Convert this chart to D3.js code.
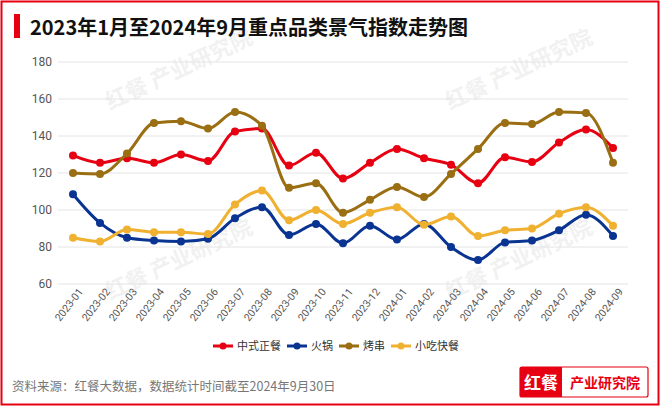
<html>
<head>
<meta charset="utf-8">
<script src="https://d3js.org/d3.v7.min.js"></script>
<style>body{margin:0;background:#fff;font-family:"Noto Sans CJK SC","Noto Sans",sans-serif}</style>
</head>
<body>
<div id="chart"></div>
<script>
var months = ["2023-01","2023-02","2023-03","2023-04","2023-05","2023-06","2023-07","2023-08","2023-09","2023-10","2023-11","2023-12","2024-01","2024-02","2024-03","2024-04","2024-05","2024-06","2024-07","2024-08","2024-09"];
var zhongshi = [129.5,125.5,128,125.5,130,126.5,142.5,144,124,131,117,125.5,133,128,124.5,114.5,128.5,126,136.5,143.5,133.5];
var huoguo = [108.5,93,85,83.5,83,84.5,95.5,101.5,86.5,92.5,82,91.5,84,92.5,80,73,82.5,83.5,89,97.5,86];
var kaochuan = [120,119.5,130.5,147,148,144,153,145.5,112,114.5,98.5,105.5,112.5,107,119.5,133,147,146.5,153,152.5,125.5];
var xiaochi = [85,83,89.5,88,88,87,103,110.5,94.5,100,92.5,98.5,101.5,92,96.5,86,89,90,98,101.5,91.5];
var yTicks = [60,80,100,120,140,160,180];

var series = [
  {name:"中式正餐", values:zhongshi, color:"#e60012"},
  {name:"火锅", values:huoguo, color:"#0a3491"},
  {name:"烤串", values:kaochuan, color:"#9a6e12"},
  {name:"小吃快餐", values:xiaochi, color:"#f0b030"}
];

var W = 660, H = 406;
var svg = d3.select("#chart").append("svg").attr("width", W).attr("height", H);

// frame + title
svg.append("rect").attr("x",1.5).attr("y",1.5).attr("width",W-3).attr("height",H-3)
  .attr("fill","none").attr("stroke","#e60012").attr("stroke-width",2);
svg.append("rect").attr("x",14).attr("y",14).attr("width",6).attr("height",24).attr("fill","#e60012");
svg.append("text").attr("x",30).attr("y",35).attr("font-size",20).attr("font-weight","bold")
  .attr("fill","#111").text("2023年1月至2024年9月重点品类景气指数走势图");

// watermarks
[[110,110],[450,110],[110,300],[450,300]].forEach(function(p){
  svg.append("text").attr("transform","translate("+p[0]+","+p[1]+") rotate(-25)")
    .attr("font-size",22).attr("font-weight","bold").attr("fill","#000").attr("opacity",0.05)
    .text("红餐 产业研究院");
});

var x = d3.scalePoint().domain(months).range([73,613]);
var y = d3.scaleLinear().domain([60,180]).range([284,62]);

var grid = svg.append("g");
yTicks.forEach(function(t){
  grid.append("line").attr("x1",58).attr("x2",628).attr("y1",y(t)).attr("y2",y(t))
    .attr("stroke","#e4e4e4").attr("stroke-width",1);
});
svg.append("g").attr("transform","translate(58,0)")
  .call(d3.axisLeft(y).tickValues(yTicks).tickSize(0).tickPadding(6))
  .call(function(g){g.select(".domain").remove();})
  .selectAll("text").attr("font-size",12).attr("fill","#555").attr("font-family","Roboto, sans-serif");

var xa = svg.append("g").attr("transform","translate(0,288)")
  .call(d3.axisBottom(x).tickSize(0).tickPadding(4));
xa.select(".domain").remove();
xa.selectAll("text").attr("font-size",10.5).attr("fill","#555").attr("font-family","Roboto, sans-serif")
  .attr("text-anchor","end").attr("dx","0.3em").attr("dy","0.6em").attr("transform","rotate(-52)");

var line = d3.line().x(function(d,i){return x(months[i]);}).y(function(d){return y(d);})
  .curve(d3.curveMonotoneX);

series.forEach(function(s){
  var g = svg.append("g");
  g.append("path").attr("d", line(s.values)).attr("fill","none")
    .attr("stroke",s.color).attr("stroke-width",3);
  g.selectAll("circle").data(s.values).enter().append("circle")
    .attr("cx",function(d,i){return x(months[i]);}).attr("cy",function(d){return y(d);})
    .attr("r",4).attr("fill",s.color);
});

// legend
var lx = 213;
series.forEach(function(s){
  var g = svg.append("g").attr("transform","translate("+lx+",346)");
  g.append("line").attr("x1",0).attr("x2",20).attr("stroke",s.color).attr("stroke-width",3);
  g.append("circle").attr("cx",10).attr("r",3.5).attr("fill",s.color);
  var t = g.append("text").attr("x",24).attr("y",4).attr("font-size",11).attr("fill","#333").text(s.name);
  lx += 24 + t.node().getComputedTextLength() + 6;
});

svg.append("text").attr("x",12).attr("y",391).attr("font-size",12.5).attr("fill","#777")
  .text("资料来源：红餐大数据，数据统计时间截至2024年9月30日");

// logo
svg.append("rect").attr("x",520).attr("y",367).attr("width",128).attr("height",30)
  .attr("fill","#fff").attr("stroke","#e60012").attr("stroke-width",1.2).attr("rx",2);
svg.append("rect").attr("x",520).attr("y",367).attr("width",42).attr("height",30).attr("fill","#e60012");
svg.append("text").attr("x",541).attr("y",389).attr("text-anchor","middle").attr("font-size",17)
  .attr("font-weight","bold").attr("fill","#fff").text("红餐");
svg.append("text").attr("x",605).attr("y",388).attr("text-anchor","middle").attr("font-size",14)
  .attr("font-weight","bold").attr("fill","#e60012").text("产业研究院");
</script>
</body>
</html>
